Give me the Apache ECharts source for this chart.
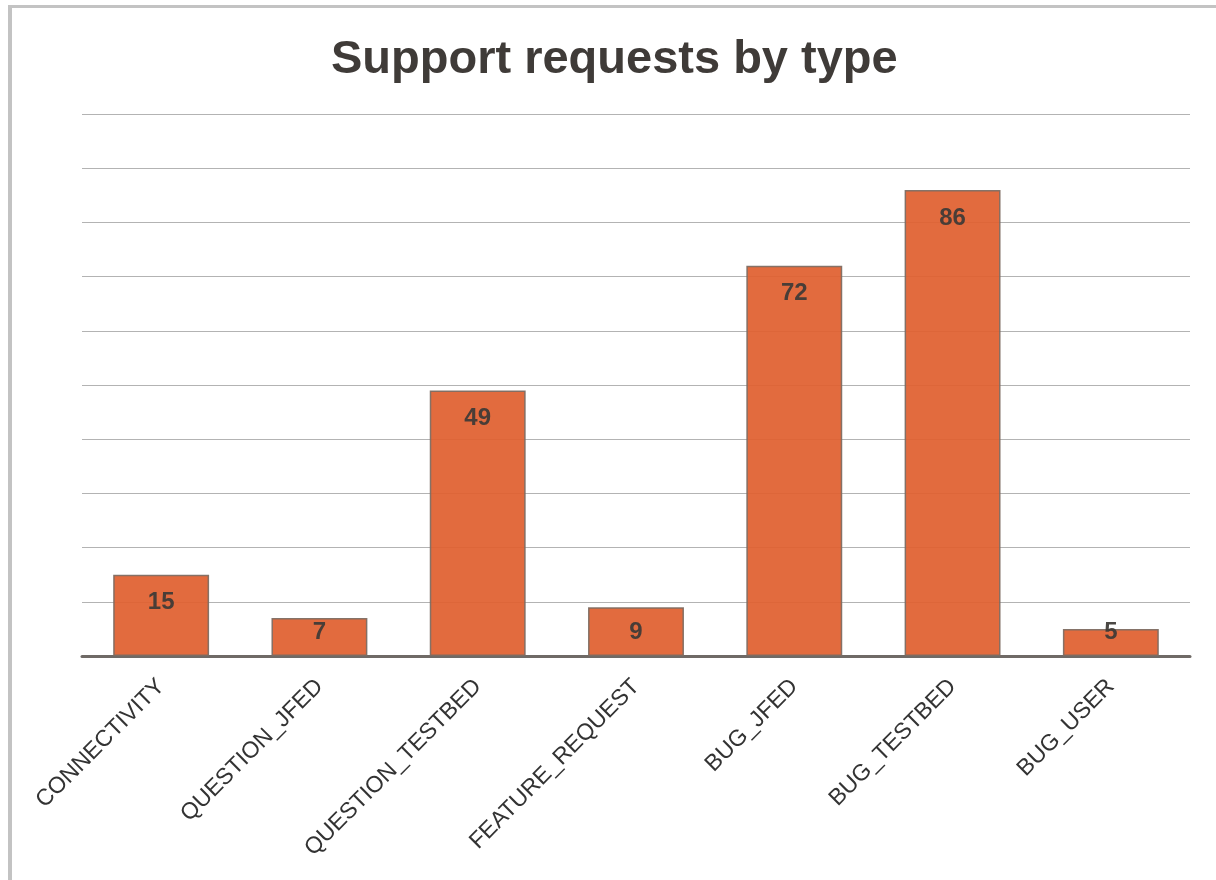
<!DOCTYPE html>
<html>
<head>
<meta charset="utf-8">
<script src="https://cdn.jsdelivr.net/npm/echarts@6/dist/echarts.min.js"></script>
<style>
  body { margin: 0; background: #fff; }
  #frame { position: absolute; left: 8px; top: 5px; width: 1400px; height: 1000px;
           border-left: 4px solid #c3c3c3; border-top: 3px solid #c3c3c3; }
  #mainBox { position: absolute; left: 0; top: 0; width: 1216px; height: 880px; }
</style>
</head>
<body>
<div id="frame"></div>
<div id="mainBox"></div>
<script>
// 数据
var categories = ['CONNECTIVITY', 'QUESTION_JFED', 'QUESTION_TESTBED', 'FEATURE_REQUEST', 'BUG_JFED', 'BUG_TESTBED', 'BUG_USER'];
var counts = [15, 7, 49, 9, 72, 86, 5];

var myChart = echarts.init(document.getElementById('mainBox'));

// small bars get their label near the bottom
var barData = counts.map(function (v) {
    var item = { value: v };
    if (v < 10) {
        item.label = { position: 'insideBottom', distance: 12 };
    }
    return item;
});

var option = {
    animation: false,
    title: {
        text: 'Support requests by type',
        left: 326,
        top: 32,
        textStyle: { fontFamily: 'Liberation Sans', fontSize: 47, fontWeight: 'bold', color: '#3f3b38' }
    },
    grid: { left: 82, right: 26, top: 114, bottom: 224 },
    xAxis: {
        type: 'category',
        data: categories,
        axisTick: { show: false },
        axisLine: { lineStyle: { color: '#6f6a66', width: 3 } },
        axisLabel: {
            rotate: 45,
            margin: 27,
            interval: 0,
            fontFamily: 'Liberation Sans',
            fontSize: 23,
            color: '#333'
        }
    },
    yAxis: {
        type: 'value',
        min: 0,
        max: 100,
        interval: 10,
        axisLabel: { show: false },
        axisLine: { show: false },
        axisTick: { show: false },
        splitLine: { lineStyle: { color: '#b3b3b3', width: 1 } }
    },
    series: [{
        type: 'bar',
        data: barData,
        barWidth: '60.6%',
        itemStyle: { color: '#e0602f', opacity: 0.93, borderColor: '#7d6c62', borderWidth: 1.5 },
        label: {
            show: true,
            position: 'insideTop',
            distance: 16,
            fontFamily: 'Liberation Sans',
            fontSize: 24,
            fontWeight: 'bold',
            color: '#3d3a37'
        }
    }]
};

myChart.setOption(option);
</script>
</body>
</html>
